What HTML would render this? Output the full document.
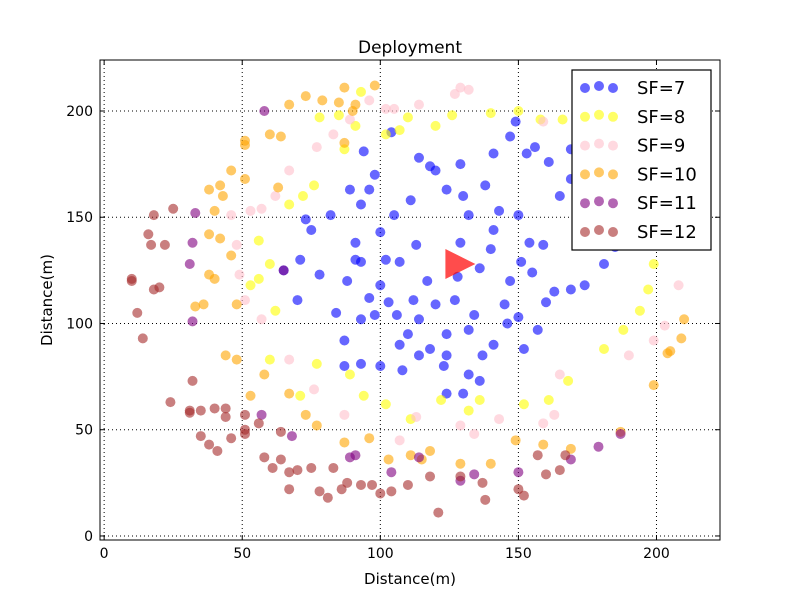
<!DOCTYPE html>
<html><head><meta charset="utf-8"><style>
body{margin:0;background:#fff;}
svg{display:block;font-family:"DejaVu Sans","Liberation Sans",sans-serif;}
</style></head><body>
<svg id="chart" width="800" height="600" viewBox="0 0 800 600">
<rect width="800" height="600" fill="#fff"/>
<text x="410" y="53" font-size="17" text-anchor="middle">Deployment</text>
<text x="410" y="584" font-size="15" text-anchor="middle">Distance(m)</text>
<text transform="translate(52,300) rotate(-90)" font-size="15" text-anchor="middle">Distance(m)</text>
<g id="grid"></g><g id="pts"></g><g id="ticks"></g>
<rect x="100" y="60" width="620" height="480" fill="none" stroke="#000" stroke-width="1"/>
<g id="legend"></g>
</svg>
<script>
const xTicks=[0,50,100,150,200];
const yTicks=[0,50,100,150,200];
const seriesNames=["SF=7","SF=8","SF=9","SF=10","SF=11","SF=12"];
const seriesColors=["#0000ff","#ffff00","#ffc0cb","#ffa500","#800080","#a52a2a"];
const sf7=[[94,181],[104,190],[114,178],[118,174],[129,175],[141,180],[147,188],[153,180],[156,183],[161,176],[165,160],[169,168],[172,171],[176,158],[179,151],[185,136],[181,128],[174,118],[169,116],[163,115],[159,137],[154,138],[151,129],[147,120],[145,109],[150,103],[157,97],[152,88],[141,90],[137,85],[132,76],[136,73],[130,67],[124,67],[123,80],[124,85],[114,85],[108,78],[107,90],[100,80],[93,81],[87,80],[87,92],[84,105],[93,102],[98,104],[103,110],[100,118],[102,130],[107,129],[93,129],[91,130],[78,123],[71,130],[70,111],[65,125],[73,149],[75,144],[82,151],[89,163],[96,163],[93,156],[100,143],[91,138],[111,158],[105,151],[120,172],[124,163],[130,160],[132,151],[129,138],[136,126],[140,135],[117,120],[120,109],[114,102],[112,111],[124,95],[132,97],[127,111],[141,144],[143,153],[149,195],[150,151],[169,182],[186,142],[190,144],[106,104],[110,95],[118,88],[96,112],[88,120],[134,104],[146,100],[155,124],[160,110],[128,122],[113,137],[98,170],[138,165]];
const sf8=[[107,191],[102,189],[110,197],[120,193],[126,198],[140,199],[158,196],[172,186],[183,172],[190,160],[197,142],[199,128],[197,116],[194,106],[188,97],[181,88],[168,73],[161,64],[152,62],[136,64],[132,59],[122,64],[111,55],[102,62],[94,66],[89,76],[77,81],[71,66],[60,83],[62,106],[53,118],[56,121],[60,128],[56,139],[67,156],[72,160],[76,165],[87,182],[91,193],[93,209],[85,198],[78,197],[166,196],[150,200]];
const sf9=[[127,208],[132,210],[105,201],[114,203],[159,195],[174,197],[179,185],[187,175],[194,165],[201,153],[208,118],[203,99],[199,92],[190,85],[165,76],[163,57],[159,53],[143,55],[134,48],[129,52],[113,56],[107,45],[87,57],[76,69],[67,83],[57,102],[51,111],[49,123],[48,137],[46,151],[53,153],[57,154],[62,160],[67,172],[77,183],[83,189],[89,196],[96,205],[102,201],[129,211]];
const sf10=[[98,212],[87,211],[85,204],[79,205],[67,203],[60,189],[64,188],[51,186],[51,184],[51,168],[46,172],[42,165],[38,163],[43,160],[40,153],[38,142],[42,140],[46,132],[38,123],[40,121],[48,109],[36,109],[33,108],[44,85],[48,83],[58,76],[53,66],[67,67],[73,57],[77,52],[87,44],[96,46],[103,36],[111,38],[115,36],[118,40],[129,34],[140,34],[149,45],[159,43],[169,41],[187,49],[199,71],[204,86],[205,87],[209,93],[210,102],[172,192],[91,203],[73,207],[90,200],[87,185],[63,164]];
const sf11=[[58,200],[33,152],[32,138],[31,128],[32,101],[65,125],[57,57],[68,47],[91,38],[104,30],[114,37],[129,26],[134,29],[150,30],[169,36],[179,42],[187,48],[89,37]];
const sf12=[[18,151],[25,154],[16,142],[17,137],[22,137],[18,116],[20,117],[10,121],[10,120],[12,105],[14,93],[32,73],[31,59],[31,58],[35,59],[40,60],[44,60],[44,56],[24,63],[35,47],[38,43],[41,40],[51,50],[51,48],[51,57],[56,53],[58,37],[61,32],[64,36],[64,49],[67,30],[70,31],[67,22],[75,32],[78,21],[81,18],[83,32],[86,22],[88,25],[93,24],[97,24],[100,20],[104,21],[110,24],[118,28],[121,11],[129,28],[137,25],[138,17],[150,22],[152,19],[160,29],[165,31],[167,38],[157,38],[46,46]];
const gateway=[129,128];
const allSeries=[sf7,sf8,sf9,sf10,sf11,sf12];
const NS="http://www.w3.org/2000/svg";
const X0=100,X1=720,Y0=540,Y1=60,XMIN=-1.5,XMAX=223,YMIN=-1.9,YMAX=224;
function sx(v){return X0+(v-XMIN)/(XMAX-XMIN)*(X1-X0);}
function sy(v){return Y0-(v-YMIN)/(YMAX-YMIN)*(Y0-Y1);}
function mk(tag,attrs,parent){const e=document.createElementNS(NS,tag);for(const k in attrs)e.setAttribute(k,attrs[k]);parent.appendChild(e);return e;}
const grid=document.getElementById('grid'),ticks=document.getElementById('ticks'),pts=document.getElementById('pts'),leg=document.getElementById('legend');
xTicks.forEach(t=>{const x=sx(t);
 const g=mk('line',{x1:x,x2:x,y1:Y1,y2:Y0,stroke:'#000','stroke-dasharray':'1,3','stroke-width':1},grid);
 
 
 mk('line',{x1:x,x2:x,y1:Y0,y2:Y0-5,stroke:'#000'},ticks);
 mk('line',{x1:x,x2:x,y1:Y1,y2:Y1+5,stroke:'#000'},ticks);
 const tx=mk('text',{x:x,y:558,'font-size':14,'text-anchor':'middle'},ticks);tx.textContent=t;
 
 });
yTicks.forEach(t=>{const y=sy(t);
 const g=mk('line',{x1:X0,x2:X1,y1:y,y2:y,stroke:'#000','stroke-dasharray':'1,3','stroke-width':1},grid);
 
 
 mk('line',{x1:X0,x2:X0+5,y1:y,y2:y,stroke:'#000'},ticks);
 mk('line',{x1:X1,x2:X1-5,y1:y,y2:y,stroke:'#000'},ticks);
 const tx=mk('text',{x:93,y:y+5,'font-size':14,'text-anchor':'end'},ticks);tx.textContent=t;
 
 });
allSeries.forEach((s,i)=>{s.forEach(p=>{
 const c=mk('circle',{cx:sx(p[0]),cy:sy(p[1]),r:5,fill:seriesColors[i],'fill-opacity':0.6},pts);
 
 });});
const gx=sx(gateway[0]),gy=sy(gateway[1]);
const tri=mk('polygon',{points:(gx-15)+','+(gy-15)+' '+(gx-15)+','+(gy+15)+' '+(gx+15)+','+gy,fill:'#ff0000','fill-opacity':0.7},pts);


const lb=mk('rect',{x:572,y:70,width:139,height:180,fill:'#fff',stroke:'#000','stroke-width':1.2},leg);


seriesNames.forEach((n,i)=>{const y=87+i*28.8;
 [585,599,613].forEach((x,j)=>mk('circle',{cx:x,cy:y+(j==1?-1:1),r:5,fill:seriesColors[i],'fill-opacity':0.6},leg));
 const t=mk('text',{x:637,y:y+7,'font-size':18},leg);t.textContent=n;
 
 });
</script>
</body></html>
